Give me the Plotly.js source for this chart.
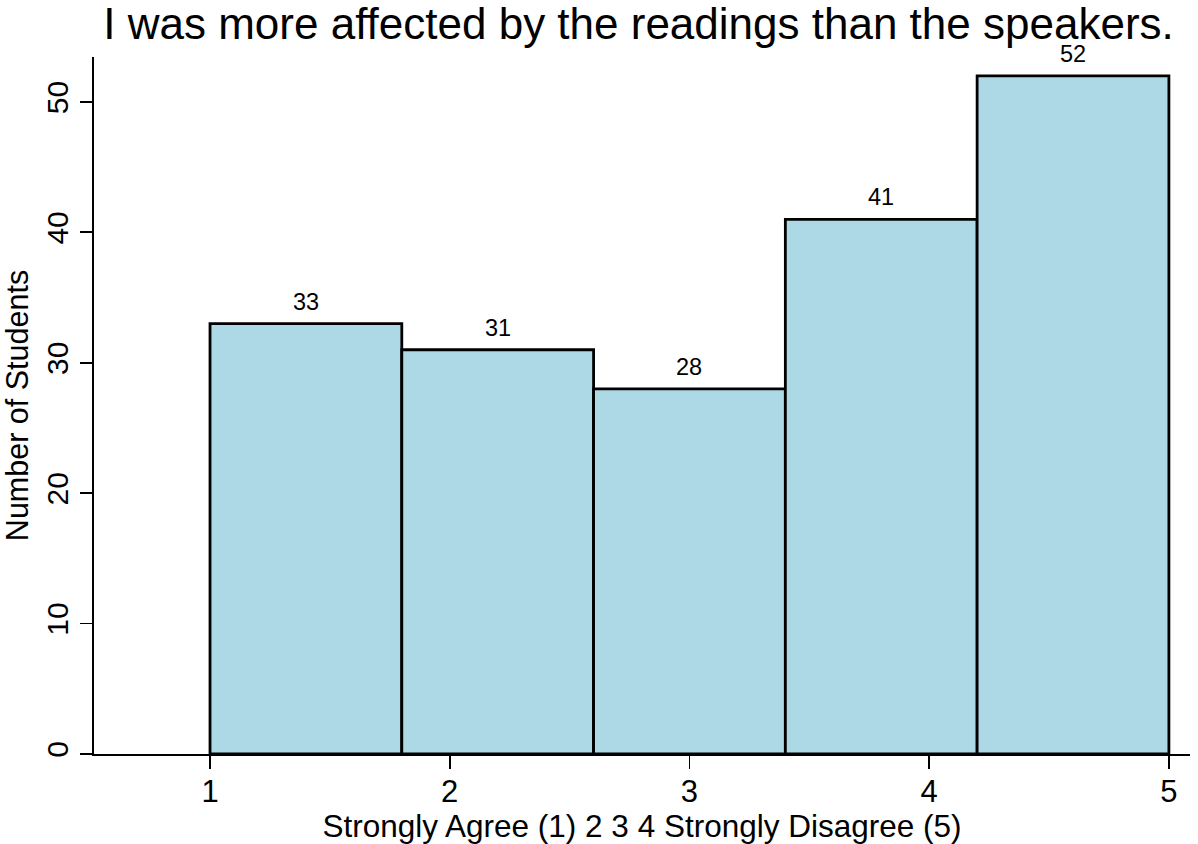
<!DOCTYPE html>
<html>
<head>
<meta charset="utf-8">
<script src="https://cdn.plot.ly/plotly-3.0.1.min.js"></script>
<style>html,body{margin:0;padding:0;background:#fff;}#chart{width:1198px;height:844px;}</style>
</head>
<body>
<div id="chart"></div>
<script>
const binEdges = [1, 1.8, 2.6, 3.4, 4.2, 5];
const counts = [33, 31, 28, 41, 52];
const xTicks = [1, 2, 3, 4, 5];
const yTicks = [0, 10, 20, 30, 40, 50];
const titleText = "I was more affected by the readings than the speakers.";
const xTitle = "Strongly Agree (1) 2 3 4 Strongly Disagree (5)";
const yTitle = "Number of Students";

const centers = counts.map((c, i) => (binEdges[i] + binEdges[i + 1]) / 2);
const widths = counts.map((c, i) => binEdges[i + 1] - binEdges[i]);
const font = "Liberation Sans, Arial, sans-serif";

const trace = {
  type: "bar",
  x: centers,
  y: counts,
  width: widths,
  marker: { color: "#ADD8E6", line: { color: "#000", width: 2.8 } },
  hoverinfo: "none"
};

const annotations = counts.map((c, i) => ({
  x: centers[i], y: c, xref: "x", yref: "y",
  text: String(c), showarrow: false,
  xanchor: "center", yanchor: "middle", yshift: 22,
  font: { family: font, size: 23.5, color: "#000" }
}));

const layout = {
  width: 1198, height: 844,
  paper_bgcolor: "#fff", plot_bgcolor: "#fff",
  margin: { l: 94, r: 8, t: 57, b: 90 },
  showlegend: false,
  bargap: 0,
  annotations: annotations,
  title: { text: titleText, font: { family: font, size: 44, color: "#000" }, x: 0.533, xanchor: "center", y: 0.972, yanchor: "middle" },
  xaxis: {
    range: [0.516, 5.088],
    tickvals: xTicks, ticktext: xTicks.map(String),
    ticks: "outside", ticklen: 13, tickwidth: 1.8, tickcolor: "#000",
    ticklabelstandoff: -4,
    showline: true, linecolor: "#000", linewidth: 1.8,
    showgrid: false, zeroline: false,
    tickfont: { family: font, size: 31, color: "#000" },
    title: { text: xTitle, font: { family: font, size: 31.5, color: "#000" }, standoff: 0 }
  },
  yaxis: {
    range: [0, 53.45],
    tickvals: yTicks, ticktext: yTicks.map(String),
    ticks: "outside", ticklen: 12, tickwidth: 1.8, tickcolor: "#000",
    tickangle: -90,
    showline: true, linecolor: "#000", linewidth: 1.8,
    showgrid: false, zeroline: false,
    tickfont: { family: font, size: 30, color: "#000" },
    title: { text: yTitle, font: { family: font, size: 30.5, color: "#000" }, standoff: 10 }
  }
};

Plotly.newPlot("chart", [trace], layout, { displayModeBar: false, staticPlot: true });
</script>
</body>
</html>
